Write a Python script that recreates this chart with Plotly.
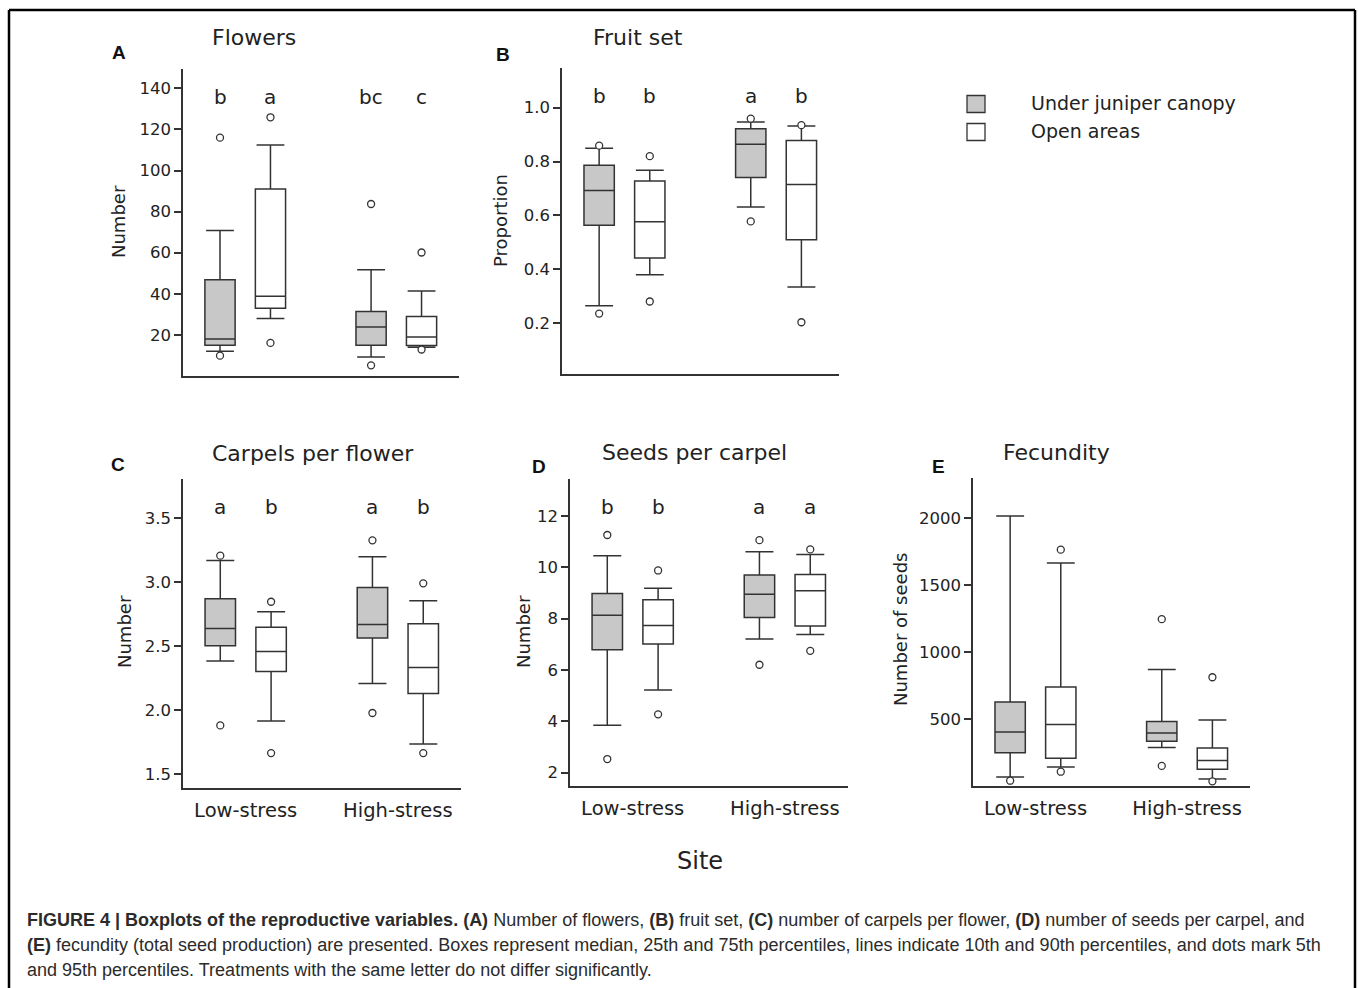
import plotly.graph_objects as go

W, H = 1358, 988

# ---------------- data ----------------
sites = ["Low-stress", "High-stress"]
treatments = ["Under juniper canopy", "Open areas"]
# each site: [p5, p10, p25, median, p75, p90, p95]
flowers_canopy = [[9.9, 12.0, 15.0, 18.0, 46.8, 70.8, 116.0],
                  [5.2, 9.3, 15.0, 23.9, 31.4, 51.7, 83.7]]
flowers_open = [[16.1, 28.0, 33.0, 38.8, 91.0, 112.4, 125.9],
                [12.9, 14.0, 14.8, 19.0, 28.9, 41.4, 60.1]]
fruitset_canopy = [[0.236, 0.265, 0.564, 0.693, 0.786, 0.849, 0.859],
                   [0.578, 0.631, 0.741, 0.864, 0.922, 0.947, 0.959]]
fruitset_open = [[0.281, 0.380, 0.442, 0.577, 0.728, 0.768, 0.820],
                 [0.204, 0.335, 0.510, 0.715, 0.878, 0.932, 0.935]]
carpels_canopy = [[1.880, 2.383, 2.503, 2.638, 2.870, 3.169, 3.206],
                  [1.977, 2.208, 2.563, 2.669, 2.958, 3.198, 3.326]]
carpels_open = [[1.664, 1.914, 2.302, 2.458, 2.646, 2.768, 2.846],
                [1.664, 1.734, 2.130, 2.333, 2.674, 2.854, 2.990]]
seeds_canopy = [[2.53, 3.84, 6.78, 8.13, 8.97, 10.44, 11.25],
                [6.20, 7.20, 8.04, 8.94, 9.69, 10.60, 11.05]]
seeds_open = [[4.27, 5.22, 7.01, 7.73, 8.73, 9.18, 9.87],
              [6.74, 7.38, 7.71, 9.08, 9.71, 10.49, 10.69]]
fecundity_canopy = [[42, 70, 251, 405, 629, 2015, None],
                    [152, 289, 336, 398, 483, 871, 1246]]
fecundity_open = [[109, 144, 209, 460, 741, 1664, 1764],
                  [37, 55, 127, 192, 286, 495, 813]]

letters_flowers = [["b", "bc"], ["a", "c"]]
letters_fruitset = [["b", "a"], ["b", "b"]]
letters_carpels = [["a", "a"], ["b", "b"]]
letters_seeds = [["b", "a"], ["b", "a"]]

ticks_flowers = [20, 40, 60, 80, 100, 120, 140]
ticks_fruitset = [0.2, 0.4, 0.6, 0.8, 1.0]
ticks_carpels = [1.5, 2.0, 2.5, 3.0, 3.5]
ticks_seeds = [2, 4, 6, 8, 10, 12]
ticks_fecundity = [500, 1000, 1500, 2000]

# ---------------- styling / layout ----------------
FONT = "DejaVu Sans"
TXT = "#222222"
LINE = "#333333"
FILLS = ["#c8c8c8", "#ffffff"]
OFFSETS = [-0.167, 0.167]
BOXW = 0.2
XR = [0.588, 2.415]


def px(x):
    return x / W


def py(y):
    return 1 - y / H


panels = [
    dict(data=[flowers_canopy, flowers_open], letters=letters_flowers, ticks=ticks_flowers, fmt="",
         yr=[0, 149.4], box=(183, 69, 459, 376), title="Flowers", tpos=(254, 37),
         tag="A", gpos=(119, 53), ytitle="Number", ytpos=(118, 222), xlab=False),
    dict(data=[fruitset_canopy, fruitset_open], letters=letters_fruitset, ticks=ticks_fruitset, fmt=".1f",
         yr=[0.012, 1.147], box=(562, 68, 839, 374), title="Fruit set", tpos=(638, 37),
         tag="B", gpos=(503, 54), ytitle="Proportion", ytpos=(500, 221), xlab=False),
    dict(data=[carpels_canopy, carpels_open], letters=letters_carpels, ticks=ticks_carpels, fmt=".1f",
         yr=[1.391, 3.805], box=(183, 479, 461, 788), title="Carpels per flower", tpos=(313, 453),
         tag="C", gpos=(118, 465), ytitle="Number", ytpos=(124, 632), xlab=True),
    dict(data=[seeds_canopy, seeds_open], letters=letters_seeds, ticks=ticks_seeds, fmt="",
         yr=[1.48, 13.43], box=(570, 479, 848, 786), title="Seeds per carpel", tpos=(694, 452),
         tag="D", gpos=(539, 466), ytitle="Number", ytpos=(523, 632), xlab=True),
    dict(data=[fecundity_canopy, fecundity_open], letters=None, ticks=ticks_fecundity, fmt="",
         yr=[2.5, 2298], box=(973, 478, 1250, 786), title="Fecundity", tpos=(1056, 452),
         tag="E", gpos=(938, 466), ytitle="Number of seeds", ytpos=(900, 630), xlab=True),
]

fig = go.Figure()
annotations = []
shapes = []

for k, p in enumerate(panels):
    sfx = "" if k == 0 else str(k + 1)
    xa, ya = "x" + sfx, "y" + sfx
    x0, y0, x1, y1 = p["box"]
    for t, stats in enumerate(p["data"]):
        xs = [i + 1 + OFFSETS[t] for i in range(len(sites))]
        fig.add_trace(go.Box(
            x=xs,
            lowerfence=[s[1] for s in stats],
            q1=[s[2] for s in stats],
            median=[s[3] for s in stats],
            q3=[s[4] for s in stats],
            upperfence=[s[5] for s in stats],
            width=BOXW, whiskerwidth=0.92, boxpoints=False,
            fillcolor=FILLS[t], line=dict(color=LINE, width=1.5),
            name=treatments[t], showlegend=False, hoverinfo="skip",
            xaxis=xa, yaxis=ya))
        dx, dy = [], []
        for i, s in enumerate(stats):
            for v in (s[0], s[6]):
                if v is not None:
                    dx.append(xs[i])
                    dy.append(v)
        fig.add_trace(go.Scatter(
            x=dx, y=dy, mode="markers", cliponaxis=False,
            marker=dict(symbol="circle", size=7, color="white",
                        line=dict(color=LINE, width=1.3)),
            showlegend=False, hoverinfo="skip", xaxis=xa, yaxis=ya))
        if p["letters"]:
            for i, lt in enumerate(p["letters"][t]):
                annotations.append(dict(
                    x=xs[i], y=1 - 28 / (y1 - y0), xref=xa, yref=ya + " domain",
                    text=lt, showarrow=False, xanchor="center", yanchor="middle",
                    font=dict(family=FONT, size=20, color=TXT)))

    fig.layout["xaxis" + sfx] = dict(
        domain=[px(x0), px(x1)], range=XR, anchor=ya,
        showline=True, linecolor=LINE, linewidth=1.5, ticks="",
        showgrid=False, zeroline=False,
        tickvals=[1, 2], ticktext=sites, showticklabels=p["xlab"],
        ticklabelstandoff=4,
        tickfont=dict(family=FONT, size=19.5, color=TXT))
    fig.layout["yaxis" + sfx] = dict(
        domain=[py(y1), py(y0)], range=p["yr"], anchor=xa,
        showline=True, linecolor=LINE, linewidth=1.5,
        ticks="outside", ticklen=7, tickwidth=1.5, tickcolor=LINE,
        tickvals=p["ticks"], tickformat=p["fmt"],
        showgrid=False, zeroline=False,
        tickfont=dict(family=FONT, size=16.5, color=TXT))

    annotations.append(dict(x=px(p["tpos"][0]), y=py(p["tpos"][1]), xref="paper", yref="paper",
                            text=p["title"], showarrow=False, xanchor="center", yanchor="middle",
                            font=dict(family=FONT, size=22, color=TXT)))
    annotations.append(dict(x=px(p["gpos"][0]), y=py(p["gpos"][1]), xref="paper", yref="paper",
                            text="<b>" + p["tag"] + "</b>", showarrow=False, xanchor="center",
                            yanchor="middle", font=dict(family="Liberation Sans", size=19, color="#111")))
    annotations.append(dict(x=px(p["ytpos"][0]), y=py(p["ytpos"][1]), xref="paper", yref="paper",
                            text=p["ytitle"], showarrow=False, textangle=-90, xanchor="center",
                            yanchor="middle", font=dict(family=FONT, size=18, color=TXT)))

# shared x title
annotations.append(dict(x=px(700), y=py(861), xref="paper", yref="paper", text="Site",
                        showarrow=False, xanchor="center", yanchor="middle",
                        font=dict(family=FONT, size=24, color=TXT)))

# legend (drawn manually to match the square keys)
for t, (yc) in enumerate([104, 132]):
    shapes.append(dict(type="rect", xref="paper", yref="paper",
                       x0=px(967), x1=px(985), y0=py(yc + 8.5), y1=py(yc - 8.5),
                       fillcolor=FILLS[t], line=dict(color=LINE, width=1.3)))
    annotations.append(dict(x=px(1029), y=py(yc - 1), xref="paper", yref="paper",
                            text=treatments[t], showarrow=False, xanchor="left", yanchor="middle",
                            font=dict(family=FONT, size=19, color=TXT)))

# figure frame
for (a, b, c, d) in [(9, 10, 1355, 10), (9, 10, 9, 1000), (1355, 10, 1355, 1000)]:
    shapes.append(dict(type="line", xref="paper", yref="paper",
                       x0=px(a), y0=py(b), x1=px(c), y1=py(d),
                       line=dict(color="black", width=2.5)))

# caption
caption = [
    "<b>FIGURE 4 | Boxplots of the reproductive variables. (A)</b> Number of flowers, <b>(B)</b> fruit set, "
    "<b>(C)</b> number of carpels per flower, <b>(D)</b> number of seeds per carpel, and",
    "<b>(E)</b> fecundity (total seed production) are presented. Boxes represent median, 25th and 75th "
    "percentiles, lines indicate 10th and 90th percentiles, and dots mark 5th",
    "and 95th percentiles. Treatments with the same letter do not differ significantly.",
]
for i, line in enumerate(caption):
    annotations.append(dict(x=px(25), y=py(920 + 25 * i), xref="paper", yref="paper",
                            text=line, showarrow=False, xanchor="left", yanchor="middle",
                            font=dict(family="Liberation Sans", size=18, color="#2b2b2b")))

fig.update_layout(
    width=W, height=H, margin=dict(l=0, r=0, t=0, b=0),
    paper_bgcolor="white", plot_bgcolor="white",
    showlegend=False, boxmode="overlay",
    annotations=annotations, shapes=shapes,
)

fig.write_html("out.html")
